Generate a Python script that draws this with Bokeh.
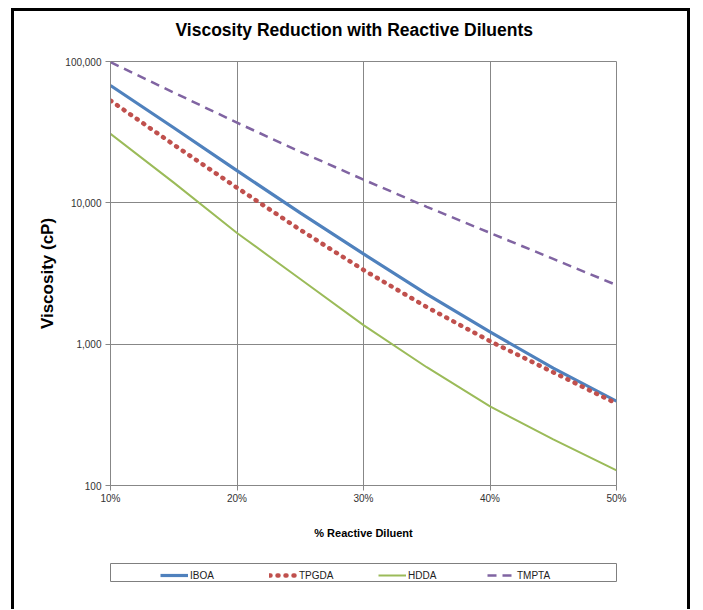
from bokeh.plotting import figure
from bokeh.layouts import column
from bokeh.models import (FixedTicker, NumeralTickFormatter, PrintfTickFormatter,
                          Legend, LegendItem, Range1d)
from bokeh.embed import file_html
from bokeh.resources import INLINE

# ---- data ----
pct = [10, 15, 20, 25, 30, 35, 40, 45, 50]
iboa = [67600, 34000, 16900, 8490, 4350, 2260, 1220, 676, 395]
tpgda = [52900, 25800, 12800, 6440, 3350, 1830, 1050, 632, 380]
hdda = [30800, 13900, 6120, 2890, 1365, 687, 363, 212, 128]
tmpta = [99000, 60300, 36900, 23000, 14600, 9370, 6130, 4010, 2620]

names = ["IBOA", "TPGDA", "HDDA", "TMPTA"]
x_ticks = [10, 20, 30, 40, 50]
y_ticks = [100, 1000, 10000, 100000]

SANS = "'Liberation Sans', Arial, sans-serif"
GRID = "#878787"
STYLES = [dict(line_color="#4F81BD", line_width=3.2),
          dict(line_color="#C0504D", line_width=4.5, line_dash="1 7", line_cap="round"),
          dict(line_color="#9BBB59", line_width=2),
          dict(line_color="#8064A2", line_width=2.5, line_dash="9 6")]
series = [iboa, tpgda, hdda, tmpta]

# ---------------- main chart ----------------
p = figure(frame_width=506, frame_height=424, y_axis_type="log",
           x_range=Range1d(10, 50), y_range=Range1d(100, 100000),
           output_backend="svg", toolbar_location=None,
           min_border_left=95, min_border_right=72,
           min_border_top=50, min_border_bottom=65,
           title="Viscosity Reduction with Reactive Diluents")
p.styles = {"margin-top": "-16px"}
p.border_fill_alpha = 0

p.title.align = "left"
p.title.offset = 65
p.title.standoff = 44
p.title.text_font = SANS
p.title.text_font_size = "17.5px"
p.title.text_font_style = "bold"
p.title.text_color = "#000000"

p.outline_line_color = GRID
p.outline_line_width = 1

for g in (p.xgrid, p.ygrid):
    g.grid_line_color = GRID
    g.grid_line_width = 1

p.xaxis.ticker = FixedTicker(ticks=x_ticks)
p.xaxis.formatter = PrintfTickFormatter(format="%d%%")
p.yaxis.ticker = FixedTicker(ticks=y_ticks)
p.yaxis.formatter = NumeralTickFormatter(format="0,0")

for ax in (p.xaxis, p.yaxis):
    ax.axis_line_color = GRID
    ax.major_tick_line_color = GRID
    ax.major_tick_out = 5
    ax.major_tick_in = 0
    ax.minor_tick_line_color = None
    ax.major_label_text_font = SANS
    ax.major_label_text_font_size = "10px"
    ax.major_label_text_color = "#333333"
    ax.axis_label_text_font = SANS
    ax.axis_label_text_font_style = "bold"
    ax.axis_label_text_color = "#000000"

p.xaxis.major_label_standoff = 2
p.xaxis.axis_label = "% Reactive Diluent"
p.xaxis.axis_label_text_font_size = "11px"
p.xaxis.axis_label_standoff = 20

p.yaxis.major_label_standoff = 4
p.yaxis.axis_label = "Viscosity (cP)"
p.yaxis.axis_label_text_font_size = "17px"
p.yaxis.axis_label_standoff = 5

for ys, st in zip(series, STYLES):
    p.line(pct, ys, **st)

# ---------------- legend strip ----------------
p2 = figure(frame_width=506, frame_height=18,
            x_range=Range1d(0, 1), y_range=Range1d(0, 1),
            x_axis_location=None, y_axis_location=None,
            output_backend="svg", toolbar_location=None,
            min_border_left=96, min_border_right=71,
            min_border_top=13, min_border_bottom=28)
p2.outline_line_color = "#7f7f7f"
p2.outline_line_width = 1
p2.border_fill_alpha = 0
p2.grid.visible = False

items = []
for nm, ys, st in zip(names, series, STYLES):
    r = p2.line(pct, ys, **st)   # same series; outside this strip's range
    items.append(LegendItem(label=nm, renderers=[r]))

legend = Legend(items=items, orientation="horizontal", location=(50, 0),
                border_line_color=None, background_fill_alpha=0,
                padding=3, spacing=4, margin=0,
                glyph_width=28, glyph_height=12, label_standoff=2,
                label_width=75, label_height=12,
                label_text_font=SANS, label_text_font_size="10px",
                label_text_color="#222222")
p2.add_layout(legend, "center")

layout = column(p, p2, spacing=0,
                styles={"border-left": "3px solid black",
                        "border-right": "3px solid black",
                        "border-top": "3px solid black",
                        "margin-left": "11px", "margin-top": "8px"})

open("out.html", "w").write(file_html(layout, INLINE))
